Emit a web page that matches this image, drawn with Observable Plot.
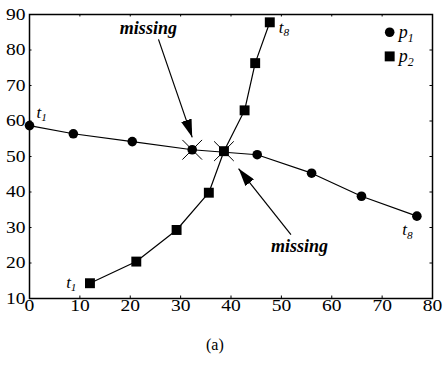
<!DOCTYPE html>
<html>
<head>
<meta charset="utf-8">
<script src="https://cdn.jsdelivr.net/npm/d3@7"></script>
<script src="https://cdn.jsdelivr.net/npm/@observablehq/plot@0.6"></script>
<style>
  body { margin: 0; background: #fff; }
  #wrap { position: relative; width: 443px; height: 367px; }
  #cap { position: absolute; left: 206px; top: 336px; font: 16px "Liberation Serif", serif; color: #000; }
  #chart svg, #chart svg text { font-family: "Liberation Serif", serif !important; }
</style>
</head>
<body>
<div id="wrap"><div id="chart"></div><div id="cap">(a)</div></div>
<script>
// ---- data ----
const p1X = [0, 8.7, 20.4, 32.3, 45.2, 56.0, 65.9, 76.9];
const p1Y = [58.7, 56.4, 54.2, 51.9, 50.5, 45.3, 38.8, 33.2];
const p2X = [12.0, 21.2, 29.2, 35.6, 38.6, 42.7, 44.8, 47.7];
const p2Y = [14.3, 20.4, 29.3, 39.8, 51.5, 63.0, 76.3, 87.8];
const missingX = [32.3, 38.6];
const missingY = [51.9, 51.5];
const xTicks = [0, 10, 20, 30, 40, 50, 60, 70, 80];
const yTicks = [10, 20, 30, 40, 50, 60, 70, 80, 90];
// point labels (annotation positions in data units)
const tLabels = ["t_1", "t_1", "t_8", "t_8"];
const tLabelX = [2.4, 8.3, 50.5, 75.0];
const tLabelY = [62.4, 14.6, 86.4, 29.3];
// "missing" annotations
const missText = ["missing", "missing"];
const missTextX = [23.6, 53.6];
const missTextY = [84.6, 23.0];
const arrowX1 = [25.6, 51.9], arrowY1 = [83.0, 28.0];
const arrowX2 = [32.3, 41.5], arrowY2 = [55.4, 46.6];
// legend
const legendNames = ["p_1", "p_2"];
const legendSymbols = ["circle", "square"];
const legendX = [71.5, 71.5];
const legendY = [85.0, 78.2];

const p1 = p1X.map((x, i) => ({x, y: p1Y[i]}));
const p2 = p2X.map((x, i) => ({x, y: p2Y[i]}));
const miss = missingX.map((x, i) => ({x, y: missingY[i]}));
const tl = tLabels.map((t, i) => ({t, x: tLabelX[i], y: tLabelY[i]}));
const mt = missText.map((t, i) => ({t, x: missTextX[i], y: missTextY[i]}));
const arr = arrowX1.map((x1, i) => ({x1, y1: arrowY1[i], x2: arrowX2[i], y2: arrowY2[i]}));
const leg = legendNames.map((n, i) => ({n, s: legendSymbols[i], x: legendX[i], y: legendY[i]}));
const innerY = yTicks.slice(1, -1), innerX = xTicks.slice(1, -1);
const serif = "Liberation Serif";

const plot = Plot.plot({
  width: 443, height: 320,
  marginLeft: 29, marginRight: 11, marginTop: 14, marginBottom: 22,
  style: "font-family: 'Liberation Serif', serif; font-size: 17px; color: #000; background: #fff;",
  x: {domain: [0, 80], ticks: xTicks, tickSize: 0, tickPadding: 0, label: null},
  y: {domain: [10, 90], ticks: yTicks, tickSize: 0, tickPadding: 4, label: null},
  r: {type: "identity"},
  marks: [
    Plot.ruleY(innerY, {y: d => d, x1: 0, x2: 0.5, stroke: "#000", strokeWidth: 1}),
    Plot.ruleY(innerY, {y: d => d, x1: 79.5, x2: 80, stroke: "#000", strokeWidth: 1}),
    Plot.ruleX(innerX, {x: d => d, y1: 10, y2: 10.7, stroke: "#000", strokeWidth: 1}),
    Plot.ruleX(innerX, {x: d => d, y1: 89.3, y2: 90, stroke: "#000", strokeWidth: 1}),
    Plot.frame({stroke: "#000", strokeWidth: 1.5}),
    Plot.line(p1, {x: "x", y: "y", stroke: "#000", strokeWidth: 1.2}),
    Plot.line(p2, {x: "x", y: "y", stroke: "#000", strokeWidth: 1.2}),
    Plot.dot(miss, {x: "x", y: "y", symbol: "times", r: 9, stroke: "#000", strokeWidth: 1}),
    Plot.dot(p1, {x: "x", y: "y", symbol: "circle", r: 4.8, fill: "#000", stroke: null}),
    Plot.dot(p2, {x: "x", y: "y", symbol: "square", r: 5.6, fill: "#000", stroke: null}),
    Plot.link(arr, {x1: "x1", y1: "y1", x2: "x2", y2: "y2", stroke: "#000", strokeWidth: 1.2}),
    Plot.text(mt, {x: "x", y: "y", text: "t", fontFamily: serif, fontSize: 18, fontWeight: "bold", fontStyle: "italic", textAnchor: "middle", lineAnchor: "bottom", fill: "#000"}),
    Plot.text(tl, {x: "x", y: "y", text: "t", fontFamily: serif, fontSize: 17, fontStyle: "italic", textAnchor: "middle", lineAnchor: "middle", fill: "#000"}),
    Plot.dot(leg, {x: "x", y: "y", symbol: "s", r: d => d.s === "circle" ? 4.8 : 5.6, fill: "#000", stroke: null}),
    Plot.text(leg, {x: "x", y: "y", text: "n", dx: 9, fontFamily: serif, fontSize: 18, fontStyle: "italic", textAnchor: "start", lineAnchor: "middle", fill: "#000"})
  ]
});
document.getElementById("chart").appendChild(plot);

// subscripts: "a_1" -> a + subscript 1
plot.querySelectorAll("text").forEach(t => {
  const s = t.textContent;
  const m = /^([a-z])_(\d)$/.exec(s);
  if (!m) return;
  while (t.firstChild) t.removeChild(t.firstChild);
  t.appendChild(document.createTextNode(m[1]));
  const sub = document.createElementNS("http://www.w3.org/2000/svg", "tspan");
  sub.setAttribute("font-size", "0.66em");
  sub.setAttribute("dy", "0.3em");
  sub.textContent = m[2];
  t.appendChild(sub);
});

// the reference's tick digits are set wide: stretch them slightly
plot.querySelectorAll('g[aria-label$="tick label"] text').forEach(t => {
  const len = t.getComputedTextLength();
  if (len > 0) {
    t.setAttribute("textLength", (len * 1.15).toFixed(1));
    t.setAttribute("lengthAdjust", "spacingAndGlyphs");
  }
});

// filled arrowheads on the annotation links
const ns = "http://www.w3.org/2000/svg";
const defs = document.createElementNS(ns, "defs");
const marker = document.createElementNS(ns, "marker");
marker.setAttribute("id", "head");
marker.setAttribute("viewBox", "0 0 18 11");
marker.setAttribute("refX", "18");
marker.setAttribute("refY", "5.5");
marker.setAttribute("markerWidth", "18");
marker.setAttribute("markerHeight", "11");
marker.setAttribute("markerUnits", "userSpaceOnUse");
marker.setAttribute("orient", "auto");
const mp = document.createElementNS(ns, "path");
mp.setAttribute("d", "M0,0L18,5.5L0,11Z");
mp.setAttribute("fill", "#000");
marker.appendChild(mp);
defs.appendChild(marker);
plot.insertBefore(defs, plot.firstChild);
plot.querySelectorAll('g[aria-label="link"] path').forEach(p => p.setAttribute("marker-end", "url(#head)"));
</script>
</body>
</html>
